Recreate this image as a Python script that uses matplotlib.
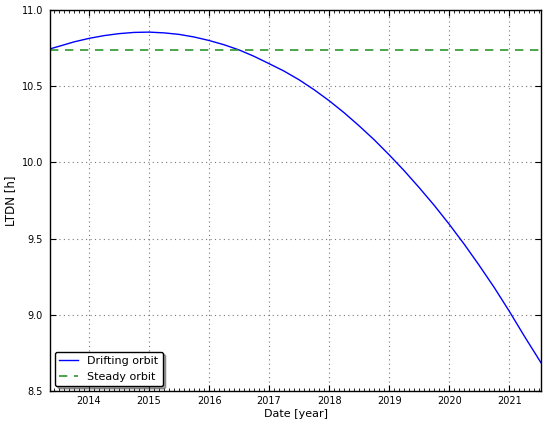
import matplotlib
matplotlib.use("Agg")
import matplotlib.pyplot as plt
from matplotlib.ticker import MultipleLocator

years = [2013.35, 2013.5, 2013.75, 2014.0, 2014.25, 2014.5, 2014.75, 2015.0, 2015.25,
         2015.5, 2015.75, 2016.0, 2016.25, 2016.5, 2016.75, 2017.0, 2017.25, 2017.5,
         2017.75, 2018.0, 2018.25, 2018.5, 2018.75, 2019.0, 2019.25, 2019.5, 2019.75,
         2020.0, 2020.25, 2020.5, 2020.75, 2021.0, 2021.25, 2021.53]
ltdn_drift = [10.745, 10.762, 10.791, 10.814, 10.832, 10.845, 10.853, 10.855, 10.850,
              10.840, 10.823, 10.800, 10.772, 10.738, 10.696, 10.648, 10.599, 10.542,
              10.477, 10.405, 10.326, 10.240, 10.149, 10.050, 9.946, 9.835, 9.719,
              9.595, 9.464, 9.325, 9.180, 9.025, 8.862, 8.686]
ltdn_steady = 10.735

plt.rcParams['font.family'] = ['DejaVu Sans']

fig = plt.figure(figsize=(5.5, 4.26), dpi=100)
ax = fig.add_axes([0.091, 0.082, 0.8926, 0.8945])

ax.plot(years, ltdn_drift, color='b', lw=1.0, label='Drifting orbit')
ax.plot([years[0], years[-1]], [ltdn_steady, ltdn_steady], color='#2e962e',
        ls=(0, (5, 4)), lw=1.2, label='Steady orbit')

ax.set_xlim(years[0], years[-1])
ax.set_ylim(8.5, 11.0)
ax.xaxis.set_major_locator(MultipleLocator(1))
ax.xaxis.set_minor_locator(MultipleLocator(1 / 12))
ax.yaxis.set_major_locator(MultipleLocator(0.5))
ax.xaxis.set_major_formatter(plt.FuncFormatter(lambda v, p: f"{int(round(v))}"))
ax.yaxis.set_major_formatter(plt.FuncFormatter(lambda v, p: f"{v:.1f}"))

ax.tick_params(which='both', direction='in', top=True, right=True, labelsize=7)
ax.tick_params(axis='x', pad=3.5)
ax.tick_params(axis='y', pad=5)
ax.tick_params(which='major', length=4, width=0.8)
ax.tick_params(which='minor', length=2, width=0.6)
for s in ax.spines.values():
    s.set_linewidth(1.0)

ax.grid(True, which='major', color='#777777', ls=(0, (1, 3)), lw=0.8)
ax.set_xlabel("Date [year]", fontsize=8, labelpad=2)
ax.set_ylabel("LTDN [h]", fontsize=8.5, labelpad=3)

leg = ax.legend(loc='lower left', fontsize=8, shadow=True, fancybox=True,
                framealpha=1, edgecolor='black', borderaxespad=0.45,
                handlelength=1.7)
leg.get_frame().set_linewidth(1.0)

fig.savefig("out.png", dpi=100)
